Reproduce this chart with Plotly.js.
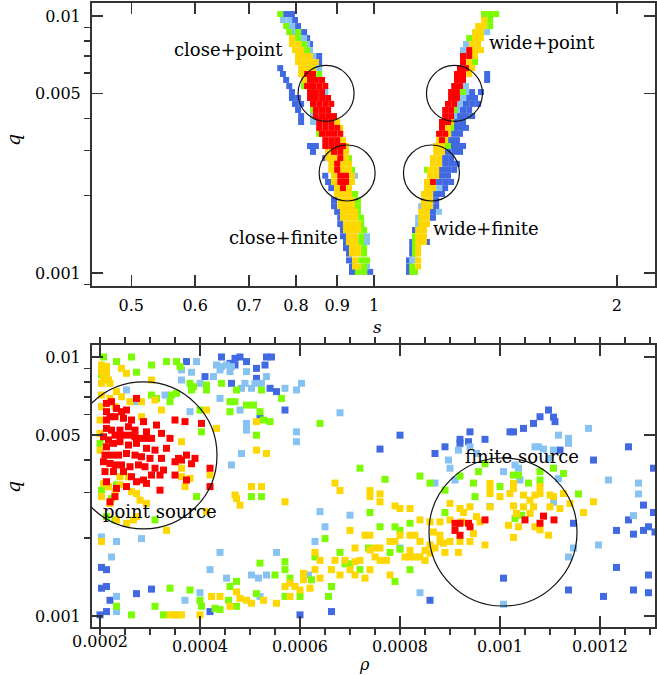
<!DOCTYPE html>
<html><head><meta charset="utf-8">
<script src="https://cdn.plot.ly/plotly-3.0.1.min.js"></script>
<style>html,body{margin:0;padding:0;background:#fff}#chart{width:657px;height:675px}</style>
</head><body><div id="chart"></div>
<script>
// ---------- DATA: top panel (s, q) ----------
const topBlue = [[0.778,0.01018],[0.791,0.01018],[0.798,0.00965],[0.805,0.00914],[0.819,0.00866],[0.826,0.00821],[0.833,0.00778],[0.855,0.00699],[0.855,0.00662],
[0.765,0.00627],[0.771,0.00595],[0.778,0.00564],[0.785,0.00534],[0.791,0.00506],[0.791,0.00480],[0.805,0.00480],[0.798,0.00455],[0.812,0.00455],[0.805,0.00431],[0.812,0.00408],[0.812,0.00387],
[0.833,0.00312],[0.847,0.00312],[0.840,0.00296],[0.870,0.00280],[0.870,0.00239],[0.877,0.00226],[0.885,0.00214],[0.892,0.00192],[0.892,0.00182],[0.900,0.00173],[0.908,0.00164],[0.908,0.00155],[0.915,0.00147],[0.915,0.00139],[0.923,0.00132],[0.923,0.00125],[0.931,0.00119],[0.931,0.00112],[0.939,0.00106],[0.939,0.00101],[0.989,0.00101],
[1.381,0.00595],[1.381,0.00564],[1.323,0.00506],[1.357,0.00506],[1.312,0.00480],[1.334,0.00480],[1.300,0.00455],[1.323,0.00455],[1.346,0.00455],[1.289,0.00431],[1.312,0.00431],[1.278,0.00408],[1.300,0.00408],[1.323,0.00408],[1.267,0.00387],[1.289,0.00387],[1.257,0.00367],[1.278,0.00367],[1.300,0.00367],[1.257,0.00348],[1.278,0.00348],[1.246,0.00329],[1.267,0.00329],[1.246,0.00312],[1.267,0.00312],[1.289,0.00312],[1.235,0.00296],[1.257,0.00296],[1.278,0.00296],[1.225,0.00280],[1.246,0.00280],[1.225,0.00266],[1.246,0.00266],[1.267,0.00266],[1.214,0.00252],[1.235,0.00252],[1.257,0.00252],[1.214,0.00239],[1.235,0.00239],[1.204,0.00226],[1.225,0.00226],[1.246,0.00226],[1.225,0.00214],[1.194,0.00203],[1.214,0.00203],[1.194,0.00192],[1.194,0.00182],[1.183,0.00173],[1.183,0.00164],[1.124,0.00147],[1.115,0.00132],[1.163,0.00132],[1.115,0.00125],[1.115,0.00119],[1.105,0.00112],[1.105,0.00106],[1.105,0.00101]];
const topLightBlue = [[0.771,0.00965],[0.785,0.00965],[0.791,0.00914],[0.798,0.00866],[0.819,0.00821],[0.826,0.00778],[0.833,0.00737],[0.840,0.00699],[0.855,0.00627],[0.862,0.00564],[0.870,0.00506],[0.840,0.00408],[0.840,0.00387],[0.947,0.00239],[0.980,0.00139],[0.980,0.00132],[0.980,0.00106],
[1.381,0.00866],[1.300,0.00778],[1.289,0.00737],[1.300,0.00534],[1.300,0.00506],[1.289,0.00480],[1.278,0.00455],[1.267,0.00431],[1.257,0.00408],[1.204,0.00214],[1.144,0.00182],[1.204,0.00173],[1.134,0.00164],[1.134,0.00155],[1.115,0.00112]];
const topGreen = [[0.765,0.01018],[0.778,0.00914],[0.785,0.00866],[0.805,0.00866],[0.805,0.00821],[0.819,0.00778],[0.826,0.00737],[0.855,0.00595],[0.819,0.00534],[0.840,0.00431],[0.855,0.00348],[0.931,0.00280],[0.939,0.00252],[0.947,0.00203],[0.955,0.00192],[0.955,0.00182],[0.955,0.00173],[0.964,0.00164],[0.964,0.00155],[0.972,0.00147],[0.964,0.00139],[0.964,0.00132],[0.972,0.00125],[0.972,0.00119],[0.964,0.00112],[0.980,0.00112],[0.972,0.00106],[0.955,0.00101],[0.972,0.00101],
[1.369,0.01018],[1.393,0.01018],[1.417,0.01018],[1.393,0.00965],[1.393,0.00914],[1.312,0.00821],[1.334,0.00662],[1.289,0.00506],[1.257,0.00431],[1.246,0.00367],[1.235,0.00312],[1.163,0.00252],[1.124,0.00139],[1.124,0.00132],[1.124,0.00125],[1.124,0.00119],[1.115,0.00106],[1.115,0.00101],[1.124,0.00101]];
const topYellow = [[0.791,0.00821],[0.791,0.00778],[0.805,0.00778],[0.798,0.00737],[0.812,0.00737],[0.805,0.00699],[0.819,0.00699],[0.833,0.00699],[0.805,0.00662],[0.819,0.00662],[0.833,0.00662],[0.847,0.00662],[0.812,0.00627],[0.826,0.00627],[0.840,0.00627],[0.812,0.00595],[0.819,0.00564],[0.900,0.00387],[0.908,0.00367],[0.915,0.00329],[0.923,0.00312],[0.877,0.00296],[0.923,0.00296],[0.877,0.00280],[0.892,0.00280],[0.923,0.00280],[0.885,0.00266],[0.915,0.00266],[0.931,0.00266],[0.885,0.00252],[0.915,0.00252],[0.931,0.00252],[0.892,0.00239],[0.939,0.00239],[0.892,0.00226],[0.939,0.00226],[0.900,0.00214],[0.931,0.00214],[0.900,0.00203],[0.915,0.00203],[0.931,0.00203],[0.908,0.00192],[0.923,0.00192],[0.939,0.00192],[0.908,0.00182],[0.923,0.00182],[0.939,0.00182],[0.915,0.00173],[0.931,0.00173],[0.947,0.00173],[0.915,0.00164],[0.931,0.00164],[0.947,0.00164],[0.923,0.00155],[0.939,0.00155],[0.955,0.00155],[0.923,0.00147],[0.939,0.00147],[0.955,0.00147],[0.931,0.00139],[0.947,0.00139],[0.931,0.00132],[0.947,0.00132],[0.939,0.00125],[0.955,0.00125],[0.939,0.00119],[0.955,0.00119],[0.947,0.00112],[0.947,0.00106],[0.955,0.00106],
[1.369,0.00965],[1.346,0.00914],[1.369,0.00914],[1.334,0.00866],[1.357,0.00866],[1.334,0.00821],[1.357,0.00821],[1.323,0.00778],[1.346,0.00778],[1.334,0.00737],[1.357,0.00737],[1.334,0.00699],[1.312,0.00662],[1.323,0.00627],[1.312,0.00595],[1.246,0.00387],[1.235,0.00367],[1.235,0.00348],[1.204,0.00329],[1.225,0.00329],[1.194,0.00312],[1.214,0.00312],[1.194,0.00296],[1.214,0.00296],[1.183,0.00280],[1.204,0.00280],[1.183,0.00266],[1.204,0.00266],[1.173,0.00252],[1.194,0.00252],[1.173,0.00239],[1.194,0.00239],[1.163,0.00226],[1.163,0.00214],[1.183,0.00214],[1.153,0.00203],[1.173,0.00203],[1.153,0.00192],[1.173,0.00192],[1.153,0.00182],[1.173,0.00182],[1.144,0.00173],[1.163,0.00173],[1.144,0.00164],[1.163,0.00164],[1.144,0.00155],[1.163,0.00155],[1.134,0.00147],[1.153,0.00147],[1.134,0.00139],[1.153,0.00139],[1.134,0.00132],[1.153,0.00132],[1.134,0.00125],[1.134,0.00119],[1.134,0.00112],[1.134,0.00106]];
const topRed = [[0.826,0.00595],[0.840,0.00595],[0.833,0.00564],[0.847,0.00564],[0.862,0.00564],[0.826,0.00534],[0.840,0.00534],[0.855,0.00534],[0.870,0.00534],[0.833,0.00506],[0.847,0.00506],[0.862,0.00506],[0.833,0.00480],[0.847,0.00480],[0.862,0.00480],[0.877,0.00480],[0.840,0.00455],[0.855,0.00455],[0.870,0.00455],[0.885,0.00455],[0.847,0.00431],[0.862,0.00431],[0.877,0.00431],[0.847,0.00408],[0.862,0.00408],[0.877,0.00408],[0.892,0.00408],[0.855,0.00387],[0.870,0.00387],[0.885,0.00387],[0.855,0.00367],[0.870,0.00367],[0.885,0.00367],[0.900,0.00367],[0.862,0.00348],[0.877,0.00348],[0.892,0.00348],[0.908,0.00348],[0.870,0.00329],[0.885,0.00329],[0.900,0.00329],[0.870,0.00312],[0.885,0.00312],[0.900,0.00312],[0.915,0.00312],[0.892,0.00296],[0.908,0.00296],[0.908,0.00280],[0.900,0.00266],[0.900,0.00252],[0.908,0.00239],[0.923,0.00239],[0.908,0.00226],[0.923,0.00226],[0.915,0.00214],
[1.312,0.00737],[1.289,0.00699],[1.312,0.00699],[1.289,0.00662],[1.278,0.00627],[1.300,0.00627],[1.267,0.00595],[1.289,0.00595],[1.267,0.00564],[1.289,0.00564],[1.257,0.00534],[1.278,0.00534],[1.246,0.00506],[1.267,0.00506],[1.246,0.00480],[1.267,0.00480],[1.235,0.00455],[1.257,0.00455],[1.225,0.00431],[1.246,0.00431],[1.225,0.00408],[1.246,0.00408],[1.214,0.00387],[1.235,0.00387],[1.214,0.00367],[1.204,0.00348],[1.225,0.00348],[1.214,0.00329],[1.183,0.00226]];

// ---------- DATA: bottom panel (rho, q) ----------
const botBlue = [[3.73e-4,9.60e-3],[4.43e-4,1.00e-2],[4.70e-4,9.88e-3],[4.80e-4,1.00e-2],[4.70e-4,9.31e-3],[4.60e-4,9.45e-3],[4.93e-4,9.60e-3],[5.33e-4,1.00e-2],[5.43e-4,1.00e-2],[5.30e-4,9.31e-3],[5.13e-4,9.04e-3],[4.10e-4,8.40e-3],[5.13e-4,8.27e-3],[4.63e-4,7.91e-3],[5.40e-4,7.57e-3],[5.53e-4,7.35e-3],[5.70e-4,6.24e-3],[5.20e-4,5.80e-3],[2.03e-4,1.54e-3],[2.13e-4,1.51e-3],[2.03e-4,1.28e-3],[2.13e-4,1.30e-3],[3.03e-4,1.27e-3],[2.73e-4,1.22e-3],[2.20e-4,1.15e-3],[2.00e-4,1.01e-3],[2.13e-4,1.04e-3],[4.20e-4,1.04e-3],[6.00e-4,1.01e-3],
[8.00e-4,4.99e-3],[7.60e-4,4.41e-3],[8.60e-4,1.15e-3],[6.63e-4,1.04e-3],[9.40e-4,5.14e-3],[9.20e-4,4.81e-3],[9.20e-4,4.64e-3],[9.37e-4,4.71e-3],[9.70e-4,4.81e-3],[8.90e-4,4.50e-3],[8.70e-4,4.24e-3],[1.020e-3,5.14e-3],[1.027e-3,5.14e-3],[1.047e-3,5.30e-3],[1.067e-3,5.54e-3],[1.080e-3,5.88e-3],[1.097e-3,6.24e-3],[1.107e-3,5.86e-3],[1.110e-3,5.63e-3],[1.120e-3,4.37e-3],[1.187e-3,4.00e-3],[1.257e-3,4.50e-3],[1.307e-3,3.72e-3],[1.287e-3,2.68e-3],[1.307e-3,2.51e-3],[1.257e-3,2.35e-3],[1.297e-3,2.21e-3],[1.287e-3,2.14e-3],[1.310e-3,2.11e-3],[1.233e-3,2.14e-3],[1.267e-3,2.07e-3],[1.147e-3,2.28e-3],[1.233e-3,1.54e-3],[1.297e-3,1.44e-3],[1.267e-3,1.26e-3],[1.297e-3,1.23e-3],[1.207e-3,1.19e-3],[1.137e-3,1.26e-3],[1.007e-3,1.40e-3]];
const botLightBlue = [[3.93e-4,9.60e-3],[3.63e-4,8.91e-3],[3.83e-4,8.73e-3],[4.33e-4,9.31e-3],[4.43e-4,9.18e-3],[4.53e-4,9.31e-3],[4.63e-4,9.18e-3],[4.40e-4,8.91e-3],[4.60e-4,8.78e-3],[4.93e-4,8.78e-3],[4.27e-4,8.40e-3],[3.63e-4,8.15e-3],[4.00e-4,7.91e-3],[4.90e-4,7.91e-3],[5.10e-4,7.91e-3],[5.23e-4,7.91e-3],[5.33e-4,8.40e-3],[6.03e-4,7.91e-3],[5.70e-4,7.57e-3],[5.93e-4,7.46e-3],[4.83e-4,7.57e-3],[5.03e-4,7.57e-3],[3.30e-4,7.13e-3],[2.53e-4,7.46e-3],[2.73e-4,6.72e-3],[3.80e-4,6.15e-3],[4.40e-4,6.92e-3],[4.80e-4,6.24e-3],[4.93e-4,5.54e-3],[4.93e-4,5.22e-3],[5.93e-4,5.14e-3],[5.93e-4,4.71e-3],[4.83e-4,4.24e-3],[4.63e-4,3.83e-3],[6.40e-4,2.53e-3],[6.50e-4,2.21e-3],[6.30e-4,1.94e-3],[5.53e-4,1.76e-3],[4.40e-4,1.76e-3],[2.23e-4,1.69e-3],[2.83e-4,1.99e-3],[2.33e-4,1.94e-3],[2.03e-4,2.02e-3],[4.20e-4,1.51e-3],[4.53e-4,1.40e-3],[5.03e-4,1.44e-3],[5.17e-4,1.40e-3],[5.33e-4,1.44e-3],[6.17e-4,1.44e-3],[4.00e-4,1.23e-3],[3.70e-4,1.15e-3],[2.33e-4,1.19e-3],[2.33e-4,1.04e-3],[5.20e-4,1.19e-3],
[6.80e-4,6.09e-3],[8.97e-4,4.00e-3],[9.17e-4,4.37e-3],[9.00e-4,3.72e-3],[9.10e-4,3.35e-3],[9.40e-4,4.50e-3],[9.53e-4,4.24e-3],[1.007e-3,3.61e-3],[1.030e-3,3.83e-3],[1.037e-3,3.72e-3],[1.040e-3,3.35e-3],[1.070e-3,4.50e-3],[1.077e-3,4.50e-3],[1.087e-3,4.41e-3],[1.117e-3,4.99e-3],[1.137e-3,4.85e-3],[1.137e-3,4.64e-3],[1.107e-3,4.37e-3],[1.097e-3,4.06e-3],[1.117e-3,3.39e-3],[1.107e-3,2.75e-3],[9.80e-4,2.65e-3],[1.177e-3,5.30e-3],[1.217e-3,3.35e-3],[1.277e-3,3.26e-3],[1.277e-3,2.96e-3],[1.267e-3,2.44e-3],[1.147e-3,1.83e-3],[1.137e-3,1.69e-3],[1.197e-3,1.88e-3],[8.70e-4,3.26e-3],[8.00e-4,1.83e-3],[8.40e-4,1.23e-3],[1.007e-3,1.11e-3],[7.00e-4,2.45e-3]];
const botGreen = [[2.07e-4,1.00e-2],[2.63e-4,1.00e-2],[3.03e-4,9.31e-3],[3.33e-4,9.60e-3],[3.53e-4,9.60e-3],[3.60e-4,9.18e-3],[2.33e-4,9.60e-3],[2.73e-4,8.73e-3],[2.03e-4,8.52e-3],[3.87e-4,7.68e-3],[3.80e-4,7.91e-3],[4.13e-4,7.79e-3],[4.43e-4,7.91e-3],[4.73e-4,7.46e-3],[3.03e-4,7.13e-3],[3.43e-4,7.13e-3],[3.53e-4,7.24e-3],[3.13e-4,6.92e-3],[3.40e-4,6.72e-3],[4.00e-4,6.24e-3],[4.60e-4,6.72e-3],[4.70e-4,6.72e-3],[4.93e-4,6.52e-3],[5.07e-4,6.52e-3],[4.60e-4,6.15e-3],[5.20e-4,6.15e-3],[5.27e-4,5.71e-3],[5.40e-4,5.63e-3],[6.40e-4,5.54e-3],[4.03e-4,5.14e-3],[5.13e-4,4.99e-3],[5.23e-4,7.46e-3],[5.63e-4,6.92e-3],[3.83e-4,7.46e-3],[4.13e-4,7.46e-3],[2.00e-4,4.64e-3],[2.03e-4,3.06e-3],[2.13e-4,3.16e-3],[2.33e-4,3.21e-3],[2.23e-4,2.84e-3],[3.93e-4,2.89e-3],[5.03e-4,2.89e-3],[5.23e-4,2.89e-3],[2.13e-4,2.42e-3],[2.30e-4,2.35e-3],[3.10e-4,2.35e-3],[6.50e-4,1.99e-3],[5.20e-4,1.60e-3],[5.70e-4,1.62e-3],[5.70e-4,1.51e-3],[5.80e-4,1.40e-3],[6.23e-4,1.38e-3],[6.30e-4,1.69e-3],[4.73e-4,1.36e-3],[4.60e-4,1.30e-3],[5.50e-4,1.44e-3],[3.40e-4,1.28e-3],[3.80e-4,1.26e-3],[5.13e-4,1.22e-3],[5.70e-4,1.19e-3],[6.00e-4,1.19e-3],[6.57e-4,1.19e-3],[2.33e-4,1.09e-3],[2.63e-4,1.01e-3],[3.10e-4,1.09e-3],[3.27e-4,1.01e-3],[3.53e-4,1.01e-3],[4.00e-4,1.15e-3],[4.03e-4,1.09e-3],[4.30e-4,1.07e-3],[4.40e-4,1.06e-3],[4.73e-4,1.09e-3],[4.57e-4,1.15e-3],
[7.20e-4,3.72e-3],[7.70e-4,3.37e-3],[7.40e-4,2.51e-3],[7.60e-4,2.21e-3],[7.90e-4,2.21e-3],[8.00e-4,2.14e-3],[8.20e-4,2.28e-3],[8.40e-4,3.47e-3],[8.60e-4,3.26e-3],[8.90e-4,3.06e-3],[8.90e-4,2.51e-3],[9.20e-4,3.47e-3],[9.47e-4,3.26e-3],[9.70e-4,3.87e-3],[9.57e-4,3.61e-3],[9.50e-4,2.89e-3],[1.000e-3,3.16e-3],[1.027e-3,3.50e-3],[1.037e-3,3.50e-3],[1.057e-3,3.26e-3],[1.080e-3,3.61e-3],[1.080e-3,3.35e-3],[1.107e-3,3.72e-3],[1.127e-3,3.55e-3],[1.157e-3,2.96e-3],[1.030e-3,2.38e-3],[1.043e-3,2.45e-3],[8.00e-4,1.81e-3],[7.80e-4,1.76e-3],[8.20e-4,1.51e-3],[7.90e-4,1.36e-3],[6.80e-4,1.76e-3],[7.00e-4,1.59e-3],[6.90e-4,1.59e-3],[7.20e-4,1.51e-3],[6.63e-4,1.30e-3],[7.37e-4,1.83e-3]];
const botYellow = [[2.03e-4,9.31e-3],[2.13e-4,9.18e-3],[2.03e-4,8.78e-3],[2.13e-4,8.65e-3],[2.07e-4,8.27e-3],[2.17e-4,8.15e-3],[2.03e-4,7.91e-3],[2.20e-4,7.91e-3],[2.43e-4,9.04e-3],[2.53e-4,8.65e-3],[3.03e-4,8.15e-3],[2.33e-4,7.35e-3],[2.43e-4,7.03e-3],[2.03e-4,7.13e-3],[2.20e-4,6.92e-3],[2.03e-4,6.43e-3],[2.30e-4,6.43e-3],[2.60e-4,6.72e-3],[2.83e-4,6.72e-3],[3.10e-4,6.82e-3],[3.23e-4,6.24e-3],[4.13e-4,6.24e-3],[4.33e-4,5.30e-3],[3.63e-4,4.71e-3],[5.13e-4,5.63e-3],[2.83e-4,5.88e-3],[2.00e-4,5.71e-3],[2.00e-4,5.07e-3],[2.00e-4,4.37e-3],[3.63e-4,3.72e-3],[3.80e-4,3.40e-3],[3.70e-4,3.16e-3],[4.20e-4,3.50e-3],[5.13e-4,4.37e-3],[5.33e-4,4.24e-3],[5.03e-4,3.16e-3],[5.23e-4,3.16e-3],[4.70e-4,2.93e-3],[4.73e-4,2.84e-3],[5.70e-4,2.76e-3],[4.80e-4,2.68e-3],[2.07e-4,3.25e-3],[2.17e-4,3.16e-3],[2.40e-4,3.21e-3],[2.63e-4,3.02e-3],[2.73e-4,2.97e-3],[2.30e-4,3.02e-3],[2.03e-4,2.89e-3],[2.20e-4,2.72e-3],[2.80e-4,2.80e-3],[2.93e-4,2.72e-3],[2.57e-4,3.45e-3],[2.40e-4,3.45e-3],[3.63e-4,3.45e-3],[4.13e-4,2.53e-3],[2.33e-4,2.35e-3],[2.53e-4,2.28e-3],[2.67e-4,2.35e-3],[2.73e-4,2.42e-3],[3.33e-4,2.14e-3],[2.03e-4,1.94e-3],
[6.30e-4,1.76e-3],[6.40e-4,1.64e-3],[6.30e-4,1.51e-3],[6.40e-4,1.40e-3],[6.07e-4,1.46e-3],[6.07e-4,1.38e-3],[5.80e-4,1.34e-3],[5.70e-4,1.30e-3],[5.90e-4,1.30e-3],[6.00e-4,1.26e-3],[6.20e-4,1.28e-3],[4.23e-4,1.19e-3],[4.40e-4,1.19e-3],[4.73e-4,1.24e-3],[4.80e-4,1.17e-3],[4.93e-4,1.15e-3],[5.03e-4,1.12e-3],[5.27e-4,1.15e-3],[5.53e-4,1.12e-3],[5.80e-4,1.19e-3],[4.60e-4,1.09e-3],[4.00e-4,1.01e-3],[3.40e-4,1.01e-3],[3.50e-4,1.01e-3],[3.63e-4,1.01e-3],
[6.70e-4,3.26e-3],[6.80e-4,3.05e-3],[7.40e-4,3.05e-3],[7.40e-4,2.89e-3],[7.60e-4,2.96e-3],[7.60e-4,2.76e-3],[7.90e-4,2.66e-3],[8.20e-4,2.60e-3],[8.00e-4,2.60e-3],[8.40e-4,2.35e-3],[8.60e-4,2.31e-3],[8.80e-4,2.31e-3],[9.00e-4,2.72e-3],[9.20e-4,2.60e-3],[9.27e-4,2.51e-3],[9.00e-4,2.35e-3],[9.23e-4,2.31e-3],[9.40e-4,2.64e-3],[9.53e-4,2.42e-3],[9.60e-4,2.31e-3],[9.80e-4,3.25e-3],[9.80e-4,3.11e-3],[9.80e-4,2.97e-3],[9.80e-4,2.64e-3],[1.000e-3,2.89e-3],[1.020e-3,2.97e-3],[1.027e-3,3.25e-3],[1.027e-3,3.11e-3],[1.047e-3,2.93e-3],[1.060e-3,2.80e-3],[1.070e-3,2.93e-3],[1.080e-3,3.16e-3],[1.080e-3,2.97e-3],[1.100e-3,2.93e-3],[1.107e-3,2.89e-3],[1.127e-3,2.97e-3],[1.140e-3,2.72e-3],[1.167e-3,2.51e-3],[1.187e-3,2.76e-3],[1.027e-3,2.66e-3],[1.033e-3,2.49e-3],[1.047e-3,2.64e-3],[1.060e-3,2.49e-3],[1.070e-3,2.21e-3],[1.080e-3,2.15e-3],[1.097e-3,2.05e-3],[1.067e-3,2.64e-3],[1.100e-3,2.64e-3],[1.120e-3,2.60e-3],[1.017e-3,2.24e-3],[1.037e-3,2.21e-3],[1.027e-3,2.01e-3],[9.47e-4,2.08e-3],[9.40e-4,1.94e-3],[9.20e-4,1.94e-3],[9.00e-4,1.94e-3],[8.87e-4,1.91e-3],[8.90e-4,1.76e-3],[9.17e-4,1.76e-3],[9.70e-4,1.88e-3],[8.67e-4,2.11e-3],[7.00e-4,2.14e-3],[7.30e-4,2.05e-3],[7.40e-4,2.05e-3],[7.10e-4,1.83e-3],[7.40e-4,1.80e-3],[7.50e-4,1.83e-3],[7.60e-4,1.83e-3],[7.80e-4,1.94e-3],[7.90e-4,1.94e-3],[7.73e-4,1.64e-3],[7.50e-4,1.69e-3],[7.60e-4,1.64e-3],[7.20e-4,1.64e-3],[7.10e-4,1.62e-3],[6.90e-4,1.64e-3],[6.70e-4,1.64e-3],[6.63e-4,1.51e-3],[6.80e-4,1.44e-3],[7.00e-4,1.51e-3],[7.10e-4,1.44e-3],[7.30e-4,1.40e-3],[7.40e-4,1.51e-3],[7.80e-4,1.44e-3],[8.10e-4,1.69e-3],[8.20e-4,1.69e-3],[8.30e-4,1.69e-3],[8.40e-4,1.69e-3],[8.50e-4,1.64e-3],[8.40e-4,1.94e-3],[8.30e-4,2.05e-3],[8.20e-4,2.05e-3],[8.00e-4,2.05e-3],[8.20e-4,1.79e-3],[8.50e-4,1.79e-3],[8.60e-4,1.75e-3],[8.80e-4,1.94e-3],[8.80e-4,2.05e-3],[8.60e-4,1.88e-3],[8.70e-4,1.83e-3]];
const botRed = [[2.13e-4,6.62e-3],[2.23e-4,6.72e-3],[2.33e-4,6.33e-3],[2.43e-4,6.15e-3],[2.53e-4,6.24e-3],[2.73e-4,6.92e-3],[2.13e-4,6.15e-3],[2.13e-4,5.71e-3],[2.20e-4,5.88e-3],[2.30e-4,5.88e-3],[2.47e-4,5.80e-3],[2.63e-4,5.71e-3],[2.87e-4,5.63e-3],[2.13e-4,5.30e-3],[2.23e-4,5.22e-3],[2.40e-4,5.22e-3],[2.57e-4,5.38e-3],[2.70e-4,5.22e-3],[2.93e-4,5.14e-3],[3.13e-4,5.46e-3],[3.50e-4,5.71e-3],[3.70e-4,5.63e-3],[4.03e-4,5.54e-3],[2.07e-4,4.92e-3],[2.17e-4,4.78e-3],[2.30e-4,4.99e-3],[2.43e-4,4.99e-3],[2.57e-4,4.99e-3],[2.70e-4,4.92e-3],[2.80e-4,4.85e-3],[2.93e-4,4.85e-3],[3.03e-4,4.85e-3],[3.23e-4,5.07e-3],[3.40e-4,4.85e-3],[2.13e-4,4.50e-3],[2.27e-4,4.64e-3],[2.40e-4,4.71e-3],[2.57e-4,4.57e-3],[2.73e-4,4.64e-3],[2.93e-4,4.44e-3],[3.10e-4,4.37e-3],[3.33e-4,4.44e-3],[3.57e-4,4.06e-3],[3.73e-4,4.18e-3],[3.90e-4,4.06e-3],[2.10e-4,4.18e-3],[2.23e-4,4.18e-3],[2.37e-4,4.18e-3],[2.53e-4,4.24e-3],[2.70e-4,4.18e-3],[2.83e-4,4.12e-3],[3.00e-4,4.06e-3],[3.23e-4,4.06e-3],[3.50e-4,3.94e-3],[3.63e-4,4.00e-3],[3.83e-4,3.87e-3],[2.07e-4,3.94e-3],[2.20e-4,3.88e-3],[2.30e-4,3.83e-3],[2.43e-4,3.83e-3],[2.60e-4,3.77e-3],[2.77e-4,3.83e-3],[2.90e-4,3.77e-3],[3.10e-4,3.72e-3],[3.27e-4,3.66e-3],[3.50e-4,3.50e-3],[3.73e-4,3.35e-3],[4.20e-4,3.72e-3],[2.10e-4,3.61e-3],[2.27e-4,3.61e-3],[2.47e-4,3.61e-3],[2.63e-4,3.45e-3],[2.87e-4,3.35e-3],[3.03e-4,3.50e-3],[3.20e-4,3.50e-3],[3.20e-4,3.06e-3],[2.93e-4,3.25e-3],[2.73e-4,3.30e-3],[2.53e-4,3.16e-3],[2.33e-4,3.11e-3],[2.13e-4,3.30e-3],[2.20e-4,2.76e-3],[2.30e-4,2.89e-3],[4.20e-4,3.16e-3],
[9.10e-4,2.28e-3],[9.20e-4,2.28e-3],[9.37e-4,2.28e-3],[9.10e-4,2.14e-3],[9.20e-4,2.05e-3],[9.70e-4,2.35e-3],[9.40e-4,2.21e-3],[1.050e-3,2.35e-3],[1.087e-3,2.43e-3],[1.080e-3,2.28e-3],[1.108e-3,2.35e-3]];

// ---------- tick labels and circled regions ----------
const topSTicks = [0.5, 0.6, 0.7, 0.8, 0.9, 1, 2];
const topSTickText = ['0.5', '0.6', '0.7', '0.8', '0.9', '1', '2'];
const qTicks = [0.001, 0.005, 0.01];
const qTickText = ['0.001', '0.005', '0.01'];
const qMinor = [0.0009, 0.002, 0.003, 0.004, 0.006, 0.007, 0.008, 0.009];
const rhoTicks = [0.0002, 0.0004, 0.0006, 0.0008, 0.001, 0.0012];
const rhoTickText = ['0.0002', '0.0004', '0.0006', '0.0008', '0.001', '0.0012'];
const topCircles = [[0.872, 0.005], [0.926, 0.00245], [1.258, 0.005], [1.178, 0.00245]];
const botCircles = [[0.000287, 0.00417], [0.001006, 0.00211]];

const COL = {blue:'#4169e1', lb:'#87c3f2', green:'#7cfc00', yellow:'#ffd700', red:'#ff0000'};
const FONT = 'DejaVu Serif';
const W = 657, H = 675, L = 92, R = 2, T = 3, B = 48;
const PW = W - L - R, PH = H - T - B;
const fx = px => (px - L) / PW;
const fy = py => (H - B - py) / PH;

// axis ranges
const topXR = [Math.log10(0.447), Math.log10(2.23)];
const topYR = [Math.log10(0.00089), Math.log10(0.01124)];
const botXR = [0.000184, 0.00131];
const botYR = [-3.0425, -1.9537];
const topDom = [fy(286), 1], botDom = [0, fy(345)];

function mk(arr, color, xa, ya, size) {
  return {type:'scatter', mode:'markers', x: arr.map(p => p[0]), y: arr.map(p => p[1]),
    xaxis: xa, yaxis: ya, hoverinfo:'skip', showlegend:false, cliponaxis:true,
    marker:{symbol:'square', size:size, color:color, line:{width:0}}};
}
const data = [
  mk(topBlue, COL.blue, 'x', 'y', 6), mk(topLightBlue, COL.lb, 'x', 'y', 6), mk(topGreen, COL.green, 'x', 'y', 6),
  mk(topYellow, COL.yellow, 'x', 'y', 6), mk(topRed, COL.red, 'x', 'y', 6),
  mk(botBlue, COL.blue, 'x2', 'y2', 7), mk(botLightBlue, COL.lb, 'x2', 'y2', 7), mk(botGreen, COL.green, 'x2', 'y2', 7),
  mk(botYellow, COL.yellow, 'x2', 'y2', 7), mk(botRed, COL.red, 'x2', 'y2', 7)
];

const ax = {showline:true, mirror:'ticks', linecolor:'#333', linewidth:2, ticks:'inside', ticklen:11,
  tickwidth:1.3, tickcolor:'#333', showgrid:false, zeroline:false, tickmode:'array',
  tickfont:{family:FONT, size:16, color:'#000'}, ticklabelstandoff:6, ticklabeloverflow:'allow'};
const minorQ = {tickmode:'array', tickvals:qMinor, ticklen:6, tickwidth:1.3, tickcolor:'#333', showgrid:false};

// circle of pixel radius r around a data-space centre
const topPxX = PW / (topXR[1] - topXR[0]);
const topPxY = (topDom[1] - topDom[0]) * PH / (topYR[1] - topYR[0]);
const botPxX = PW / (botXR[1] - botXR[0]);
const botPxY = (botDom[1] - botDom[0]) * PH / (botYR[1] - botYR[0]);
const circLine = {color:'#111', width:1.2};
function circTop(c, r) {
  return {type:'circle', xref:'x', yref:'y', line:circLine,
    x0:c[0] * Math.pow(10, -r / topPxX), x1:c[0] * Math.pow(10, r / topPxX),
    y0:c[1] * Math.pow(10, -r / topPxY), y1:c[1] * Math.pow(10, r / topPxY)};
}
function circBot(c, r) {
  return {type:'circle', xref:'x2', yref:'y2', line:circLine,
    x0:c[0] - r / botPxX, x1:c[0] + r / botPxX,
    y0:c[1] * Math.pow(10, -r / botPxY), y1:c[1] * Math.pow(10, r / botPxY)};
}
function ann(text, px, py, size, extra) {
  return Object.assign({text:text, xref:'paper', yref:'paper', x:fx(px), y:fy(py), xanchor:'center', yanchor:'middle',
    showarrow:false, font:{family:FONT, size:size, color:'#000'}}, extra || {});
}

// first rho label is placed by a centred annotation (Plotly shifts edge labels)
const rhoAxisText = rhoTickText.map((t, i) => i === 0 ? '' : t);

const layout = {
  width:W, height:H, margin:{l:L, r:R, t:T, b:B}, paper_bgcolor:'#fff', plot_bgcolor:'#fff', showlegend:false,
  xaxis: Object.assign({}, ax, {type:'log', range:topXR, tickvals:topSTicks, ticktext:topSTickText, anchor:'y', domain:[0,1], ticklabelstandoff:4}),
  yaxis: Object.assign({}, ax, {type:'log', range:topYR, tickvals:qTicks, ticktext:qTickText, minor:minorQ, anchor:'x', domain:topDom}),
  xaxis2: Object.assign({}, ax, {type:'linear', range:botXR, tickvals:rhoTicks, ticktext:rhoAxisText, anchor:'y2', domain:[0,1],
    ticklabelstandoff:4,
    minor:{tickmode:'linear', tick0:0, dtick:0.00005, ticklen:6, tickwidth:1.3, tickcolor:'#333', showgrid:false}}),
  yaxis2: Object.assign({}, ax, {type:'log', range:botYR, tickvals:qTicks, ticktext:qTickText, minor:minorQ, anchor:'x2', domain:botDom}),
  shapes: topCircles.map(c => circTop(c, 28)).concat([circBot(botCircles[0], 73.5), circBot(botCircles[1], 74)]),
  annotations: [
    ann('close+point', 228, 50, 18), ann('close+finite', 283, 237, 18),
    ann('wide+point', 542, 42, 18), ann('wide+finite', 486, 228, 18),
    ann('point source', 160, 511, 18), ann('finite source', 522, 456, 18),
    ann('<i>q</i>', 13, 140, 19, {textangle:-90}), ann('<i>q</i>', 13, 487, 19, {textangle:-90}),
    ann('<i>s</i>', 377, 327, 17), ann('<i>ρ</i>', 364, 664, 16),
    {text:rhoTickText[0], xref:'x2', yref:'paper', x:rhoTicks[0], y:fy(641), xanchor:'center', yanchor:'middle',
     showarrow:false, font:{family:FONT, size:16, color:'#000'}}
  ]
};
Plotly.newPlot('chart', data, layout, {staticPlot:true, displayModeBar:false});
</script></body></html>
